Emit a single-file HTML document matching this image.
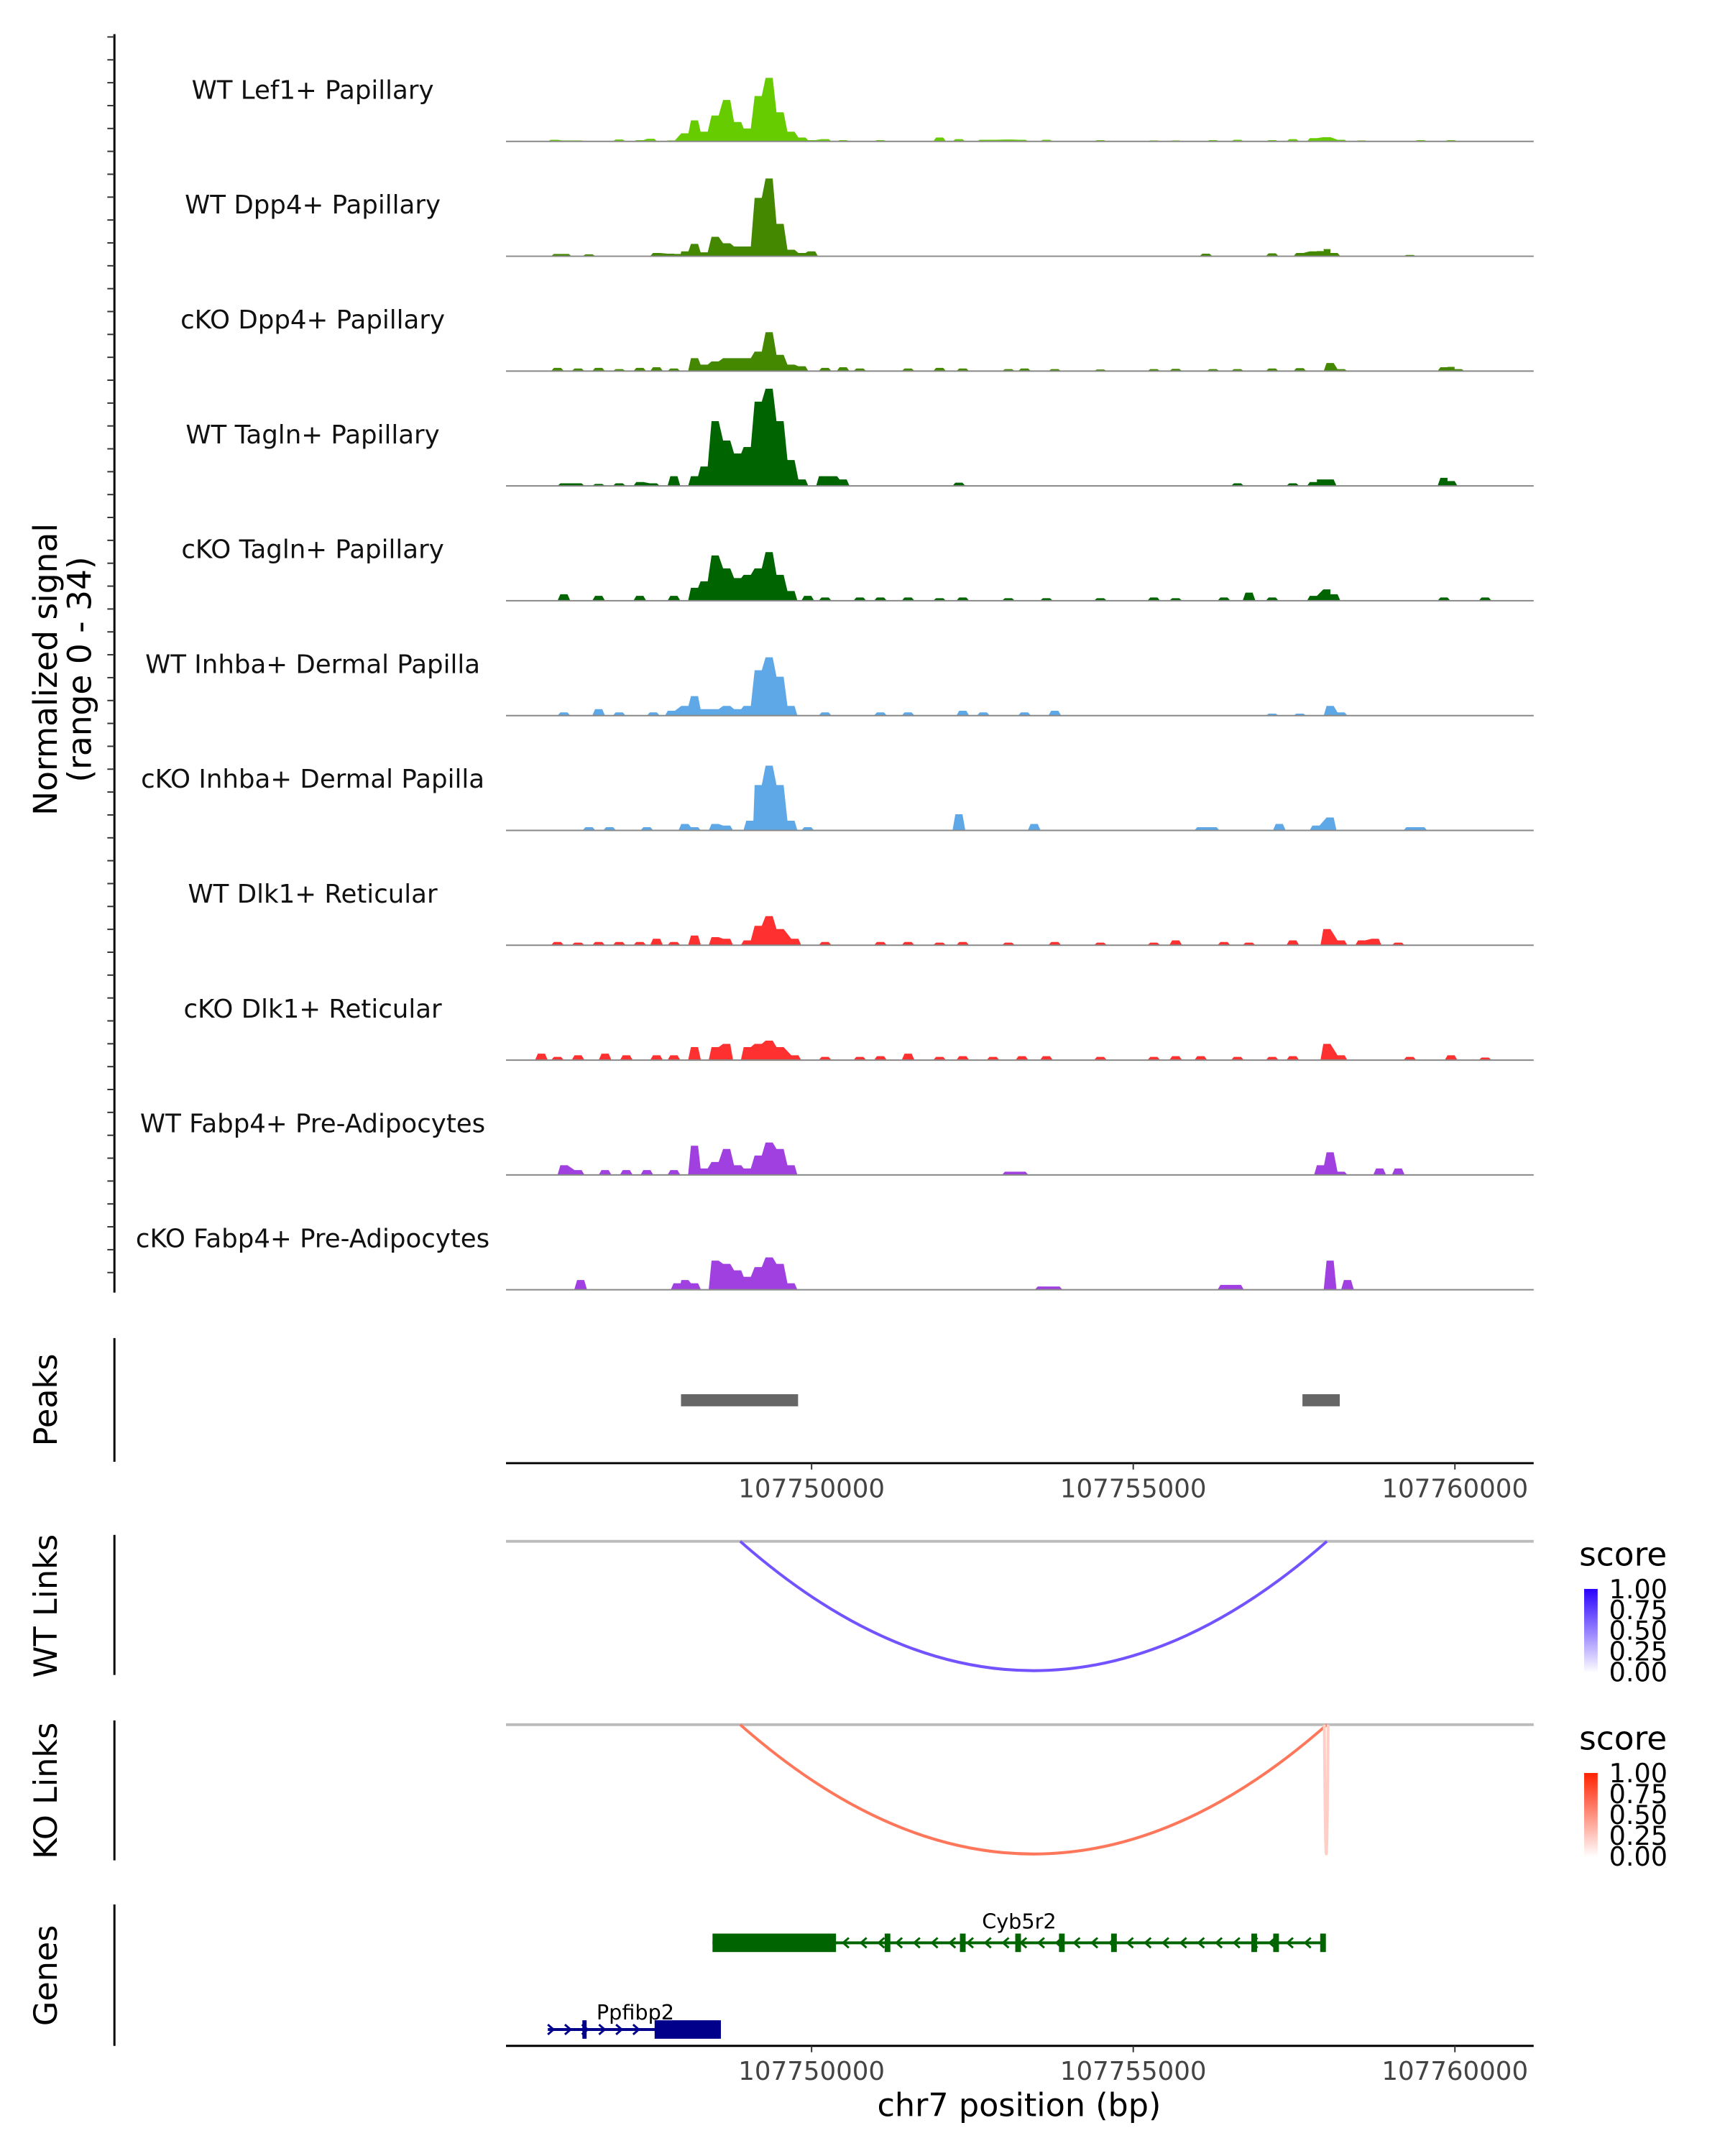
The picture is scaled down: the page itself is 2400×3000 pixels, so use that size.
<!DOCTYPE html>
<html><head><meta charset="utf-8"><style>
html,body{margin:0;padding:0;background:#fff}
svg{display:block;font-family:"DejaVu Sans","Liberation Sans",sans-serif}
</style></head><body>
<svg id="chart" width="2400" height="3000" viewBox="0 0 2427 3034" preserveAspectRatio="xMinYMin meet" xmlns="http://www.w3.org/2000/svg">
<g id="tracks"></g>
<g id="lower"></g>
</svg>
<script>
// ---- data (positions in kb offset from chr7:107745000) ----
const trackNames = ["WT Lef1+ Papillary","WT Dpp4+ Papillary","cKO Dpp4+ Papillary","WT Tagln+ Papillary","cKO Tagln+ Papillary","WT Inhba+ Dermal Papilla","cKO Inhba+ Dermal Papilla","WT Dlk1+ Reticular","cKO Dlk1+ Reticular","WT Fabp4+ Pre-Adipocytes","cKO Fabp4+ Pre-Adipocytes"];
const trackColors = ["#66cc00","#448800","#448800","#006400","#006400","#5ea8e8","#5ea8e8","#ff3030","#ff3030","#a040e0","#a040e0"];
const lef1Pos = [1.00,1.17,1.37,2.01,2.33,2.50,2.82,3.03,3.18,3.33,3.50,3.68,3.85,4.00,4.17,4.34,4.51,4.68,4.85,5.00,5.21,5.49,6.07,6.99,7.29,7.67,7.82,8.06,8.27,8.65,9.49,10.32,10.66,11.24,11.62,12.16,12.48,12.80,13.01,13.23,13.55,14.47,14.94];
const lef1Val = [0.5,0.3,0.3,0.6,0.4,0.8,0.3,2.5,6.5,3,8,12.8,6,4,14,19.6,9,3,1.2,0.4,0.7,0.4,0.4,1.2,0.7,0.5,0.5,0.6,0.5,0.5,0.4,0.3,0.3,0.4,0.5,0.4,0.7,1,1.3,0.5,0.3,0.4,0.4];
const dpp4WtPos = [1.05,1.17,1.54,2.59,2.82,2.91,3.03,3.18,3.33,3.50,3.68,3.85,4.00,4.17,4.34,4.51,4.68,4.85,5.00,11.13,12.16,12.59,12.80,12.91,13.01,13.12,14.30];
const dpp4WtVal = [0.7,0.7,0.6,1,0.8,0.7,1.5,3.8,1.2,6,4,3,3,18,24,10,2,1,1.5,0.8,0.9,1,1.5,1.6,2.2,1,0.4];
const dpp4KoPos = [1.05,1.37,1.69,2.01,2.33,2.59,2.86,3.18,3.33,3.50,3.68,3.85,4.00,4.17,4.34,4.51,4.68,4.85,5.21,5.49,5.75,6.50,6.99,7.35,8.06,8.31,8.78,9.49,10.32,10.66,11.24,11.62,12.16,12.59,13.06,13.23,14.83,14.94,15.05];
const dpp4KoVal = [1,0.8,1,0.6,1,1.2,0.8,4,2,3,4,4,4,6,12,5,2,1.5,1,1.2,0.8,0.8,1,0.8,0.6,0.8,0.6,0.5,0.6,0.7,0.6,0.6,0.8,0.9,2.5,0.6,1.2,1.3,0.6];
const taglnWtPos = [1.15,1.37,1.69,2.01,2.33,2.54,2.86,3.18,3.33,3.50,3.68,3.85,4.00,4.17,4.34,4.51,4.68,4.85,5.17,5.34,5.49,7.29,11.62,12.48,12.80,12.91,13.06,14.83,14.94];
const taglnWtVal = [0.8,0.8,0.6,0.8,1.2,0.8,3,3,6,20,14,10,12,26,30,20,8,2,3,3,2,1,0.8,0.8,1.2,2,2,2.5,1.5];
const taglnKoPos = [1.15,1.69,2.33,2.86,3.18,3.33,3.50,3.68,3.85,4.00,4.17,4.34,4.51,4.68,4.94,5.21,5.75,6.07,6.50,6.99,7.35,8.06,8.65,9.49,10.32,10.66,11.41,11.80,12.16,12.80,13.01,13.12,14.83,15.47];
const taglnKoVal = [2,1.5,1.5,1.5,4,6,14,10,7,8,10,15,8,3,1.5,1,1,1,1,0.8,1,0.8,0.8,0.8,1,0.8,1,2.5,1,1.5,3.5,2,1,1];
const inhbaWtPos = [1.15,1.69,2.01,2.54,2.82,3.03,3.18,3.33,3.50,3.68,3.85,4.00,4.17,4.34,4.51,4.68,5.21,6.07,6.50,7.35,7.67,8.31,8.78,12.16,12.59,13.06,13.23];
const inhbaWtVal = [1,2,1,1,1.5,3,6,2,2,3,2,3,14,18,12,3,1,1,1,1.5,1,1,1.5,0.6,0.6,3,1];
const inhbaKoPos = [1.54,1.86,2.44,3.03,3.18,3.50,3.68,4.04,4.17,4.34,4.51,4.68,4.94,7.29,8.46,11.05,11.24,12.27,12.84,13.06,14.30,14.47];
const inhbaKoVal = [1,1,1,2,1,2,1.5,3,14,20,14,3,1,5,2,1,1,2,1.5,4,1,1];
const dlk1WtPos = [1.05,1.37,1.69,2.01,2.33,2.59,2.86,3.18,3.50,3.68,4.00,4.17,4.34,4.51,4.74,5.21,6.07,6.50,6.99,7.35,8.06,8.78,9.49,10.32,10.66,11.41,11.80,12.48,13.01,13.23,13.55,13.76,14.12];
const dlk1WtVal = [1,0.8,1,1,1,2,1,3,2.5,2,1.5,6,9,5,2,1,1,1,0.8,1,0.8,1,0.8,0.8,1.5,1,0.8,1.5,5,1.5,1.5,2,0.8];
const dlk1KoPos = [0.80,1.05,1.37,1.79,2.12,2.59,2.86,3.18,3.50,3.68,4.00,4.17,4.34,4.51,4.74,5.21,5.75,6.07,6.50,6.99,7.35,7.82,8.27,8.65,9.49,10.32,10.66,11.05,11.62,12.16,12.48,13.01,13.23,14.30,14.94,15.47];
const dlk1KoVal = [2,1,1.5,2,1.5,1.5,1.5,4,4,5,4,5,6,4,1.5,1,1,1.2,2,1,1.2,1,1.2,1.2,1,1,1.2,1.2,1,1,1.2,5,1.5,1,1.5,0.8];
const fabp4WtPos = [1.15,1.37,1.79,2.12,2.44,2.86,3.18,3.33,3.50,3.68,3.85,4.00,4.17,4.34,4.51,4.68,8.06,8.27,12.91,13.06,13.23,13.83,14.12];
const fabp4WtVal = [3,1.5,1.5,1.5,1.5,1.5,9,2,4,8,3,2,6,10,8,3,1,1,3,7,1,2,2];
const fabp4KoPos = [1.41,2.91,3.03,3.18,3.50,3.68,3.85,4.00,4.17,4.34,4.51,4.68,8.57,8.80,11.41,11.62,13.06,13.33];
const fabp4KoVal = [3,2,3,2,9,8,6,4,7,10,8,2,1,1,1.5,1.5,9,3];
const trackPos = [lef1Pos,dpp4WtPos,dpp4KoPos,taglnWtPos,taglnKoPos,inhbaWtPos,inhbaKoPos,dlk1WtPos,dlk1KoPos,fabp4WtPos,fabp4KoPos];
const trackVal = [lef1Val,dpp4WtVal,dpp4KoVal,taglnWtVal,taglnKoVal,inhbaWtVal,inhbaKoVal,dlk1WtVal,dlk1KoVal,fabp4WtVal,fabp4KoVal];
const peakStarts = [2.97, 12.63];
const peakEnds = [4.79, 13.21];
const xTicks = [5, 10, 15];
const xTickLabels = ["107750000","107755000","107760000"];
const wtLinkStart = [3.89], wtLinkEnd = [13.01], wtLinkScore = [0.8];
const koLinkStart = [3.89, 12.97], koLinkEnd = [13.01, 13.03], koLinkScore = [0.7, 0.25];
const legendLabels = ["1.00","0.75","0.50","0.25","0.00"];
const cybStart = 3.46, cybEnd = 12.97, cybCdsEnd = 5.38;
const cybExons = [6.18,7.35,8.21,8.89,9.70,11.88,12.22,12.95];
const ppfStart = 0.90, ppfEnd = 3.59, ppfCdsStart = 2.56;
const ppfExons = [1.47];

// ---- scales ----
const X0 = 712, X1 = 2158;
const xs = kb => 712 + (kb - 0.25) * 90.52;
const trackBase0 = 199, trackStep = 161.6, ySig = 155/34;
const NS = "http://www.w3.org/2000/svg";
const T = document.getElementById('tracks'), L = document.getElementById('lower');
function mk(tag, attrs, parent, text){const e=document.createElementNS(NS,tag);for(const k in attrs)e.setAttribute(k,attrs[k]);if(text!==undefined)e.textContent=text;parent.appendChild(e);return e;}

// left axis + ticks
let ax = mk('line',{x1:161,y1:48,x2:161,y2:1819,stroke:'#000','stroke-width':3},T);


for(let i=0;i<56;i++){const y=52+i*32.2;if(y>1818)break;
 const t=mk('line',{x1:151,y1:y,x2:161,y2:y,stroke:'#333','stroke-width':2},T);
 
 }
let yt = mk('text',{transform:'translate(80,942) rotate(-90)','text-anchor':'middle','font-size':46},T,'Normalized signal');


let yt2 = mk('text',{transform:'translate(128,942) rotate(-90)','text-anchor':'middle','font-size':46},T,'(range 0 - 34)');



for(let t=0;t<trackNames.length;t++){
 const base = trackBase0 + t*trackStep;
 const pos = trackPos[t], val = trackVal[t];
 const lab = mk('text',{x:440,y:base-60,'text-anchor':'middle','font-size':36,fill:'#111'},T,trackNames[t]);
 
 
 let d='';
 for(let i=0;i<pos.length;i++){
  const x=xs(pos[i]), y=base-val[i]*ySig;
  const prevFar = i===0 || xs(pos[i])-xs(pos[i-1])>22;
  const nextFar = i===pos.length-1 || xs(pos[i+1])-xs(pos[i])>22;
  if(prevFar) d+=`M${x-9},${base} L${x-5},${y} `; else d+=`L${x-5},${y} `;
  d+=`L${x+5},${y} `;
  if(nextFar) d+=`L${x+9},${base} Z `;
 }
 const area = mk('path',{d:d,fill:trackColors[t]},T);
 
 
 const bl = mk('line',{x1:X0,y1:base,x2:X1,y2:base,stroke:'#888','stroke-width':2},T);
 
 
}

// panel axes & labels
function panel(name,label,y1,y2,cy){
 const a=mk('line',{x1:161,y1:y1,x2:161,y2:y2,stroke:'#000','stroke-width':3},L);
 
 
 const tx=mk('text',{transform:`translate(80,${cy}) rotate(-90)`,'text-anchor':'middle','font-size':45},L,label);
 
 
}
panel('peaks','Peaks',1883,2057,1970);
panel('wt-links','WT Links',2160,2357,2260);
panel('ko-links','KO Links',2421,2618,2520);
panel('genes','Genes',2680,2879,2780);

for(let i=0;i<peakStarts.length;i++){
 const r=mk('rect',{x:xs(peakStarts[i]),y:1962,width:xs(peakEnds[i])-xs(peakStarts[i]),height:17,fill:'#666'},L);
 
 
}
function xAxis(y,name){
 const a=mk('line',{x1:X0,y1:y,x2:X1,y2:y,stroke:'#000','stroke-width':3},L);
 
 
 for(let i=0;i<xTicks.length;i++){
  const x=xs(xTicks[i]);
  const tk=mk('line',{x1:x,y1:y,x2:x,y2:y+9,stroke:'#333','stroke-width':2},L);
  
  
  const tl=mk('text',{x:x,y:y+48,'text-anchor':'middle','font-size':36,fill:'#444'},L,xTickLabels[i]);
  
  
 }
}
xAxis(2059,'peaks-x-axis');
xAxis(2879,'genes-x-axis');
const xt=mk('text',{x:1434,y:2978,'text-anchor':'middle','font-size':45},L,'chr7 position (bp)');



// links
const defs=mk('defs',{},L);
const gb=mk('linearGradient',{id:'gBlue',x1:0,y1:1,x2:0,y2:0},defs);
mk('stop',{offset:0,'stop-color':'#ffffff'},gb);mk('stop',{offset:1,'stop-color':'#2a00ff'},gb);
const gr=mk('linearGradient',{id:'gRed',x1:0,y1:1,x2:0,y2:0},defs);
mk('stop',{offset:0,'stop-color':'#ffffff'},gr);mk('stop',{offset:1,'stop-color':'#ff2200'},gr);
function mixColor(hi,s){const lo=[255,255,255];return 'rgb('+hi.map((c,i)=>Math.round(lo[i]+(c-lo[i])*s)).join(',')+')';}
function links(lineY,depth,starts,ends,scores,hi,name){
 const gl=mk('line',{x1:X0,y1:lineY,x2:X1,y2:lineY,stroke:'#bbb','stroke-width':4},L);
 
 
 for(let i=0;i<starts.length;i++){
  const a=xs(starts[i]),b=xs(ends[i]);
  const p=mk('path',{d:`M${a},${lineY} Q${(a+b)/2},${lineY+2*depth} ${b},${lineY}`,fill:'none',stroke:mixColor(hi,scores[i]),'stroke-width':4},L);
  
  
 }
}
links(2169,182,wtLinkStart,wtLinkEnd,wtLinkScore,[80,40,255],'wt-link');
links(2427,182,koLinkStart,koLinkEnd,koLinkScore,[255,60,20],'ko-link');
function legend(y,grad,name){
 const t=mk('text',{x:2222,y:y,'font-size':46},L,'score');
 
 
 const r=mk('rect',{x:2229,y:y+33,width:19,height:118,fill:`url(#${grad})`},L);
 
 
 for(let i=0;i<legendLabels.length;i++){
  const tl=mk('text',{x:2264,y:y+46+i*29.3,'font-size':37},L,legendLabels[i]);
  
  
 }
}
legend(2203,'gBlue','wt-legend');
legend(2462,'gRed','ko-legend');

// genes
function gene(name,label,y,start,end,cdsA,cdsB,exons,color,dir,labelX){
 const ln=mk('line',{x1:xs(start),y1:y,x2:xs(end),y2:y,stroke:color,'stroke-width':4},L);
 
 
 for(let x=xs(cdsB)+12;x<xs(end)-6;x+=25){
  const c=mk('polyline',{points:dir<0?`${x+6},${y-7} ${x-2},${y} ${x+6},${y+7}`:`${x-6},${y-7} ${x+2},${y} ${x-6},${y+7}`,fill:'none',stroke:color,'stroke-width':3},L);
  
  
 }
 const r=mk('rect',{x:xs(cdsA),y:y-13,width:xs(cdsB)-xs(cdsA),height:26,fill:color},L);
 
 
 for(const e of exons){
  const ex=mk('rect',{x:xs(e)-4,y:y-13,width:8,height:26,fill:color},L);
  
  
 }
 const t=mk('text',{x:labelX,y:y-20,'text-anchor':'middle','font-size':29},L,label);
 
 
}
gene('cyb5r2','Cyb5r2',2734,cybStart,cybEnd,cybStart,cybCdsEnd,cybExons,'#006400',-1,1434);
(function(){
 const y=2856,color='#00008b';
 const ln=mk('line',{x1:xs(ppfStart),y1:y,x2:xs(ppfEnd),y2:y,stroke:color,'stroke-width':4},L);
 
 
 for(let x=xs(ppfStart)+6;x<xs(ppfCdsStart)-4;x+=24){
  const c=mk('polyline',{points:`${x-6},${y-7} ${x+2},${y} ${x-6},${y+7}`,fill:'none',stroke:color,'stroke-width':3},L);
  
  
 }
 const r=mk('rect',{x:xs(ppfCdsStart),y:y-13,width:xs(ppfEnd)-xs(ppfCdsStart),height:26,fill:color},L);
 
 
 for(const e of ppfExons){
  const ex=mk('rect',{x:xs(e)-3,y:y-13,width:6,height:26,fill:color},L);
  
  
 }
 const t=mk('text',{x:894,y:y-14,'text-anchor':'middle','font-size':29},L,'Ppfibp2');
 
 
})();
</script>
</body></html>
